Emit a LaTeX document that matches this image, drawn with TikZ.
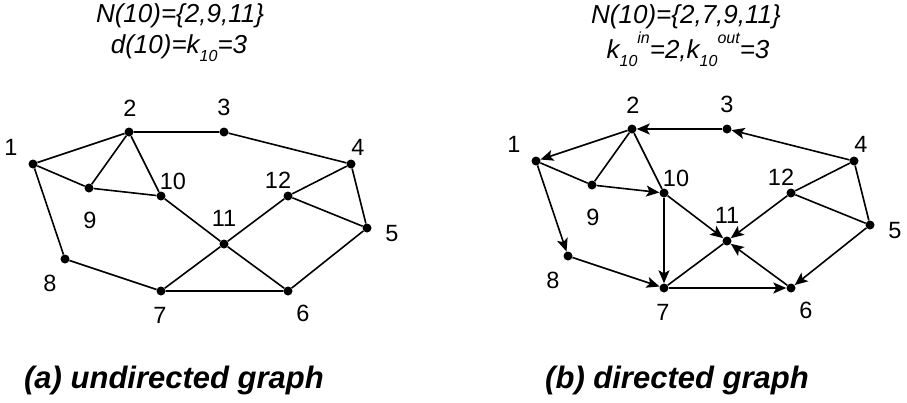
\documentclass[tikz,border=0pt]{standalone}
\usepackage{fontspec}
\setmainfont{Liberation Sans}
\usetikzlibrary{arrows.meta}
\tikzset{
  vtx/.style={circle,fill=black,inner sep=0pt,minimum size=9pt},
  lbl/.style={font=\fontsize{23.5}{27}\selectfont,inner sep=0pt},
  ttl/.style={font=\fontsize{26}{30}\selectfont\itshape,inner sep=0pt},
  captxt/.style={font=\fontsize{31}{36}\selectfont\bfseries\itshape,inner sep=0pt},
  plainln/.style={line width=1.6pt},
  arr/.style={line width=1.6pt,-{Stealth[length=13pt,width=11pt,inset=3pt]}},
}
\newcommand{\subsc}[1]{\raisebox{-0.3em}{\fontsize{16}{18}\selectfont #1}}
\newcommand{\supsc}[1]{\raisebox{0.6em}{\fontsize{16}{18}\selectfont #1}}
\begin{document}
\begin{tikzpicture}[x=1pt,y=-1pt]
\useasboundingbox (0,0) rectangle (907,402);
% ---------- (a) undirected ----------
\node[ttl] (ta1) at (180,16) {N(10)=\{2,9,11\}};
\node[ttl] (ta2) at (179,48) {d(10)=k\subsc{10}=3};
\node[captxt] (ca) at (174,380) {(a) undirected graph};
\begin{scope}
\node[vtx] (a1) at (33,164) {};
\node[vtx] (a2) at (129,132) {};
\node[vtx] (a3) at (224,132) {};
\node[vtx] (a4) at (351,164) {};
\node[vtx] (a5) at (367,228) {};
\node[vtx] (a6) at (288,291) {};
\node[vtx] (a7) at (161,291) {};
\node[vtx] (a8) at (65,259) {};
\node[vtx] (a9) at (89,188) {};
\node[vtx] (a10) at (161,196) {};
\node[vtx] (a11) at (224,244) {};
\node[vtx] (a12) at (288,196) {};
\node[lbl] (la1) at (11,147) {1};
\node[lbl] (la2) at (130,108) {2};
\node[lbl] (la3) at (224,107) {3};
\node[lbl] (la4) at (358,147) {4};
\node[lbl] (la5) at (392,234) {5};
\node[lbl] (la6) at (303,313) {6};
\node[lbl] (la7) at (160,315) {7};
\node[lbl] (la8) at (50,283) {8};
\node[lbl] (la9) at (90,220) {9};
\node[lbl] (la10) at (173,181) {10};
\node[lbl] (la11) at (224,218) {11};
\node[lbl] (la12) at (278,180) {12};
\draw[plainln] (a1)--(a2) (a1)--(a9) (a1)--(a8) (a2)--(a9) (a2)--(a10) (a2)--(a3)
  (a3)--(a4) (a9)--(a10) (a10)--(a11) (a11)--(a12) (a12)--(a4) (a12)--(a5)
  (a4)--(a5) (a5)--(a6) (a11)--(a6) (a11)--(a7) (a7)--(a6) (a8)--(a7);
\end{scope}
% ---------- (b) directed ----------
\node[ttl] (tb1) at (686,17) {N(10)=\{2,7,9,11\}};
\node[ttl] (tb2) at (688,49) {k\subsc{10}\supsc{in}=2,k\subsc{10}\supsc{out}=3};
\node[captxt] (cb) at (677,380) {(b) directed graph};
\begin{scope}[shift={(503,-3)}]
\node[vtx] (b1) at (33,164) {};
\node[vtx] (b2) at (129,132) {};
\node[vtx] (b3) at (224,132) {};
\node[vtx] (b4) at (351,164) {};
\node[vtx] (b5) at (367,228) {};
\node[vtx] (b6) at (288,291) {};
\node[vtx] (b7) at (161,291) {};
\node[vtx] (b8) at (65,259) {};
\node[vtx] (b9) at (89,188) {};
\node[vtx] (b10) at (161,196) {};
\node[vtx] (b11) at (224,244) {};
\node[vtx] (b12) at (288,196) {};
\node[lbl] (lb1) at (11,147) {1};
\node[lbl] (lb2) at (130,108) {2};
\node[lbl] (lb3) at (224,107) {3};
\node[lbl] (lb4) at (358,147) {4};
\node[lbl] (lb5) at (392,234) {5};
\node[lbl] (lb6) at (303,313) {6};
\node[lbl] (lb7) at (160,315) {7};
\node[lbl] (lb8) at (50,283) {8};
\node[lbl] (lb9) at (90,220) {9};
\node[lbl] (lb10) at (173,181) {10};
\node[lbl] (lb11) at (224,218) {11};
\node[lbl] (lb12) at (278,180) {12};
\draw[plainln] (b1)--(b9) (b2)--(b9) (b2)--(b10) (b11)--(b7)
  (b12)--(b4) (b12)--(b5) (b4)--(b5);
\draw[arr] (b2)--(b1);
\draw[arr] (b3)--(b2);
\draw[arr] (b4)--(b3);
\draw[arr] (b1)--(b8);
\draw[arr] (b8)--(b7);
\draw[arr] (b9)--(b10);
\draw[arr] (b10)--(b7);
\draw[arr] (b10)--(b11);
\draw[arr] (b12)--(b11);
\draw[arr] (b6)--(b11);
\draw[arr] (b7)--(b6);
\draw[arr] (b5)--(b6);
\end{scope}
\end{tikzpicture}
\end{document}
